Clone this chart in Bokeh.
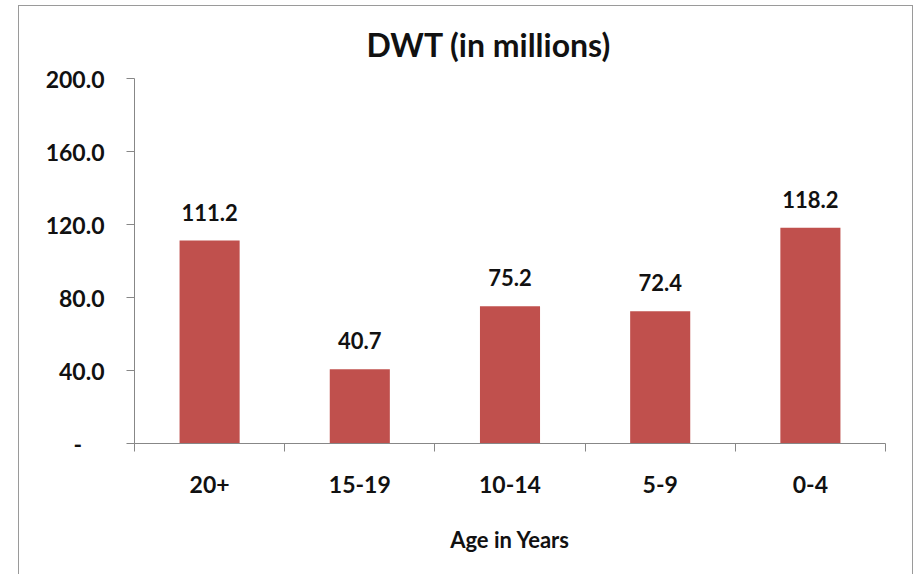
from bokeh.plotting import figure
from bokeh.models import (Range1d, FixedTicker, LinearAxis, PrintfTickFormatter,
                          ColumnDataSource, LabelSet)
from bokeh.core.properties import value
from bokeh.embed import file_html
from bokeh.resources import INLINE

# Deadweight tonnage by vessel age bracket
ages = ["20+", "15-19", "10-14", "5-9", "0-4"]
dwt = [111.2, 40.7, 75.2, 72.4, 118.2]
y_ticks = [0, 40, 80, 120, 160, 200]

FONT = "Lato"
GREY = "#878787"
BAR = "#C0504D"
INK = "#111111"

centers = [i + 0.5 for i in range(len(ages))]
bounds = list(range(len(ages) + 1))

src = ColumnDataSource(dict(
    x=centers,
    dwt=dwt,
    label=[f"{v:.1f}" for v in dwt],
))

p = figure(
    width=895, height=569,
    x_range=Range1d(0, len(ages)), y_range=Range1d(y_ticks[0], y_ticks[-1]),
    x_axis_type=None,
    output_backend="svg", toolbar_location=None,
    min_border_left=115, min_border_right=29,
    min_border_top=72, min_border_bottom=132,
)
p.margin = (5, 0, 0, 18)
p.styles = {"border-left": "1.5px solid #9a9a9a",
            "border-top": "1.5px solid #9a9a9a",
            "border-right": "1.5px solid #9a9a9a"}
p.outline_line_color = None
p.grid.visible = False
p.background_fill_color = "white"
p.border_fill_color = "white"

# Title
p.title.text = "DWT (in millions)"
p.title.align = "left"
p.title.offset = 232
p.title.standoff = 29
p.title.text_font = FONT
p.title.text_font_size = "32px"
p.title.text_font_style = "bold"
p.title.text_color = INK

# Bars
p.vbar(x="x", top="dwt", width=0.4, source=src, fill_color=BAR, line_color=None)

# Value labels above each bar
p.add_layout(LabelSet(x="x", y="dwt", text="label", source=src,
                      text_align="center", text_baseline="alphabetic",
                      y_offset=20, text_font=value(FONT), text_font_size="22px",
                      text_font_style="bold", text_color=INK))

# Y axis
ya = p.yaxis[0]
ya.ticker = FixedTicker(ticks=y_ticks, minor_ticks=[])
ya.formatter = PrintfTickFormatter(format="%.1f")
ya.major_label_overrides = {0: "-\u00a0\u00a0\u00a0\u00a0"}
ya.major_tick_in = 0
ya.major_tick_out = 8
ya.minor_tick_line_color = None
ya.major_label_standoff = 22
ya.axis_line_color = GREY
ya.major_tick_line_color = GREY
ya.major_label_text_font = FONT
ya.major_label_text_font_size = "23px"
ya.major_label_text_font_style = "bold"
ya.major_label_text_color = INK

# X axis: labels at category centres, tick marks at category boundaries
xa = LinearAxis(ticker=FixedTicker(ticks=centers, minor_ticks=bounds))
xa.major_label_overrides = {c: a for c, a in zip(centers, ages)}
xa.major_tick_line_color = None
xa.major_tick_in = 0
xa.major_tick_out = 8
xa.minor_tick_in = 0
xa.minor_tick_out = 8
xa.minor_tick_line_color = GREY
xa.axis_line_color = GREY
xa.major_label_standoff = 24
xa.major_label_text_font = FONT
xa.major_label_text_font_size = "23px"
xa.major_label_text_font_style = "bold"
xa.major_label_text_color = INK
xa.axis_label = "Age in Years"
xa.axis_label_standoff = 30
xa.axis_label_text_font = FONT
xa.axis_label_text_font_size = "22px"
xa.axis_label_text_font_style = "bold"
xa.axis_label_text_color = INK
p.add_layout(xa, "below")

open("out.html", "w").write(file_html(p, INLINE))
